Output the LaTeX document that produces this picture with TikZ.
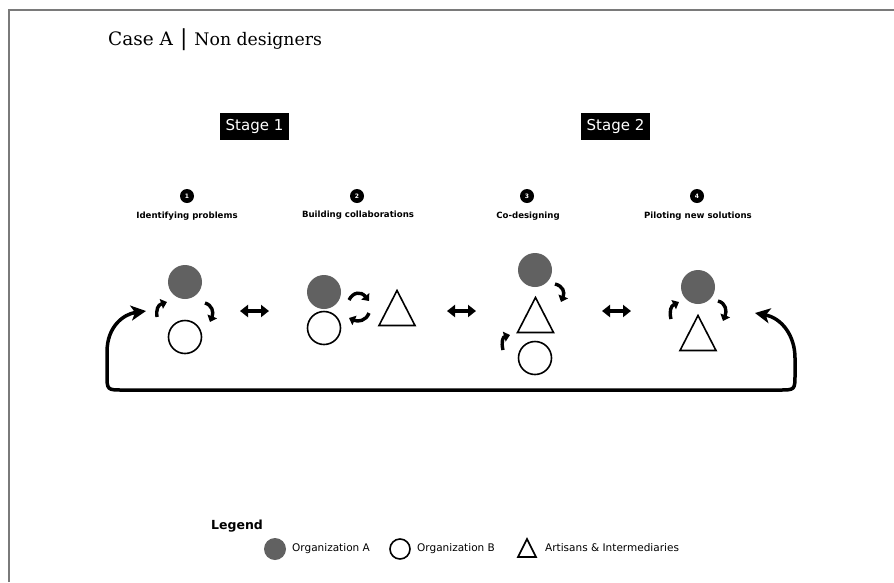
\documentclass[tikz,border=0pt]{standalone}
\usepackage{fontspec}
\setmainfont{DejaVu Sans}
\newfontfamily\titlefont{DejaVu Serif}
\usetikzlibrary{arrows.meta}
\definecolor{orgA}{HTML}{616161}
\definecolor{framegray}{HTML}{7A7A7A}
\begin{document}
\begin{tikzpicture}[x=1pt,y=-1pt,
  orga/.style={circle,fill=orgA,minimum size=34pt,inner sep=0pt},
  orgb/.style={circle,draw=black,line width=1.6pt,minimum size=33pt,inner sep=0pt},
  tri/.style={draw=black,line width=1.6pt,line join=miter},
  numdot/.style={circle,fill=black,text=white,minimum size=14pt,inner sep=0pt,font=\bfseries\fontsize{6}{6}\selectfont},
  steplabel/.style={font=\bfseries\fontsize{8.6}{9}\selectfont},
  stagebox/.style={fill=black,text=white,minimum width=69pt,minimum height=27pt,inner sep=0pt,font=\fontsize{15}{15}\selectfont},
  sarr/.style={line width=3.4pt,-{Triangle[length=6pt,width=10pt]}},
  darr/.style={line width=3.2pt,{Triangle[length=8pt,width=12pt]}-{Triangle[length=8pt,width=12pt]}},
  bigloop/.style={line width=3.5pt,{Stealth[length=15pt,width=15pt,inset=4pt]}-{Stealth[length=15pt,width=15pt,inset=4pt]}},
  legtext/.style={font=\fontsize{10.5}{11}\selectfont,anchor=west,inner sep=0pt}]
\useasboundingbox (0,0) rectangle (894,582);
\fill[white] (0,0) rectangle (894,582);
% frame
\draw[framegray,line width=2pt] (8.5,582) -- (8.5,10) -- (894,10);
% title
\node[anchor=base west,inner sep=0pt] (title) at (108,45) {\titlefont\fontsize{18.5}{20}\selectfont Case A\hspace{7pt}\fontsize{22}{22}\selectfont|\hspace{7pt}\fontsize{17.3}{18}\selectfont Non designers};
% stages
\node[stagebox] (st1) at (254.5,126.5) {Stage 1};
\node[stagebox] (st2) at (615.5,126.5) {Stage 2};
% step numbers
\node[numdot] (n1) at (187,196) {1};
\node[numdot] (n2) at (357,196) {2};
\node[numdot] (n3) at (527,196) {3};
\node[numdot] (n4) at (697,196) {4};
\node[steplabel] (l1) at (187,216) {Identifying problems};
\node[steplabel] (l2) at (358,215) {Building collaborations};
\node[steplabel] (l3) at (528,216) {Co-designing};
\node[steplabel] (l4) at (698,216) {Piloting new solutions};
% stage 1
\node[orga] (a1) at (185,282) {};
\node[orgb] (b1) at (185,337) {};
\draw[sarr] (157,317) .. controls (156,309) and (158,305) .. (167,302);
\draw[sarr] (205,303) .. controls (212,305) and (214,312) .. (210,322);
% stage 2
\node[orga] (a2) at (324,292) {};
\node[orgb] (b2) at (324,328) {};
\coordinate (t2) at (397,308);
\draw[tri] (t2) ++(0,-17.5) -- ++(18,35) -- ++(-36,0) -- cycle;
\draw[sarr] (349,300) .. controls (353,292) and (361,291) .. (369,301);
\draw[sarr] (369,313) .. controls (366,321) and (358,322) .. (349,318);
% stage 3
\node[orga] (a3) at (535,270) {};
\coordinate (t3) at (535.5,315);
\draw[tri] (t3) ++(0,-17.5) -- ++(18,35) -- ++(-36,0) -- cycle;
\node[orgb] (b3) at (535,358) {};
\draw[sarr] (555,284) .. controls (563,286) and (565,292) .. (561,302);
\draw[sarr] (503,350) .. controls (501,342) and (503,337) .. (510,335);
% stage 4
\node[orga] (a4) at (698,287) {};
\coordinate (t4) at (698,333);
\draw[tri] (t4) ++(0,-17.5) -- ++(18,35) -- ++(-36,0) -- cycle;
\draw[sarr] (671,319) .. controls (669,311) and (671,306) .. (679,302);
\draw[sarr] (718,301) .. controls (726,303) and (727,311) .. (723,321);
% double arrows between steps
\coordinate (d1a) at (240,311); \coordinate (d1b) at (269,311);
\coordinate (d2a) at (447,311); \coordinate (d2b) at (476,311);
\coordinate (d3a) at (602,311); \coordinate (d3b) at (631,311);
\draw[darr] (d1a) -- (d1b);
\draw[darr] (d2a) -- (d2b);
\draw[darr] (d3a) -- (d3b);
% big loop
\coordinate (rtip) at (755,313);
\coordinate (ltip) at (146,311);
\draw[bigloop] (rtip) .. controls (782,318) and (795,336) .. (795,358) -- (795,374)
  .. controls (795,390) .. (779,390) -- (123,390) .. controls (107,390) .. (107,374)
  -- (107,352) .. controls (107,326) and (124,314) .. (ltip);
% legend
\node[anchor=base west,inner sep=0pt,font=\bfseries\fontsize{12.5}{13}\selectfont] (leg) at (211,529) {Legend};
\node[circle,fill=orgA,minimum size=22pt,inner sep=0pt] (la) at (275,549) {};
\node[legtext] (lat) at (292,549) {Organization A};
\node[circle,draw=black,line width=1.6pt,minimum size=20pt,inner sep=0pt] (lb) at (400,549) {};
\node[legtext] (lbt) at (417,549) {Organization B};
\coordinate (lc) at (527,548);
\draw[tri] (lc) ++(0,-9) -- ++(9,18) -- ++(-18,0) -- cycle;
\node[legtext] (lct) at (545,548) {Artisans \& Intermediaries};
\end{tikzpicture}
\end{document}
